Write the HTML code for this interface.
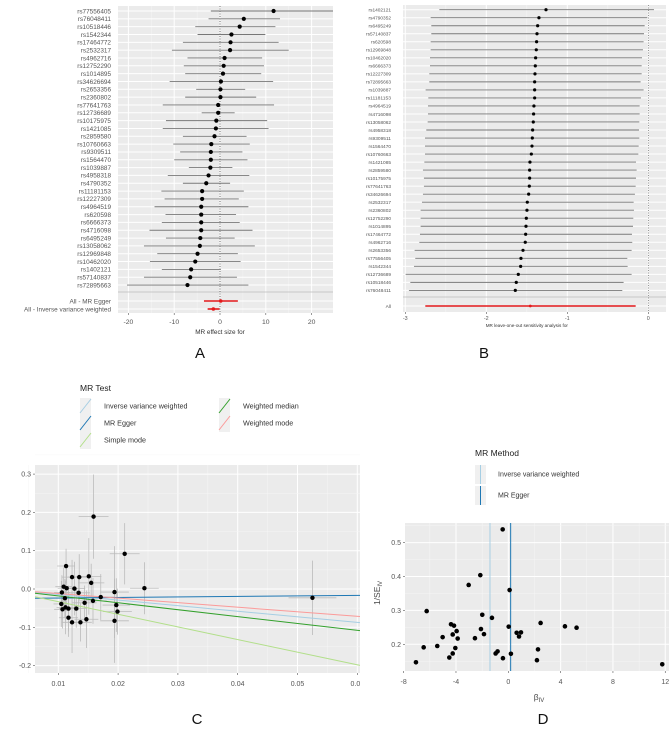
<!DOCTYPE html>
<html><head><meta charset="utf-8"><style>
body{margin:0;background:#fff}
svg{display:block;font-family:"Liberation Sans",sans-serif}
</style></head><body>
<svg id="fig" width="669" height="739" viewBox="0 0 669 739" xmlns="http://www.w3.org/2000/svg">
<g id="A"></g>
<g id="B"></g>
<g id="C"></g>
<g id="D"></g>
</svg>
<script>
// ---------- Panel A data ----------
const aSnps=["rs77556405","rs76048411","rs10518446","rs1542344","rs17464772","rs2532317","rs4962716","rs12752290","rs1014895","rs34626694","rs2653356","rs2360802","rs77641763","rs12736689","rs10175975","rs1421085","rs2859580","rs10760663","rs9309511","rs1564470","rs1039887","rs4958318","rs4790352","rs11181153","rs12227309","rs4964519","rs620598","rs6666373","rs4716098","rs6495249","rs13058062","rs12969848","rs10462020","rs1402121","rs57140837","rs72895663"];
const aEst=[11.7,5.2,4.3,2.5,2.3,2.2,1.0,0.8,0.65,0.2,0.1,0.1,-0.4,-0.4,-0.8,-0.9,-1.2,-1.9,-2.0,-2.0,-2.1,-2.5,-3.0,-3.9,-3.9,-4.1,-4.1,-4.1,-4.1,-4.3,-4.4,-4.9,-5.4,-6.3,-6.5,-7.1];
const aLo=[-2,-2.5,-5.4,-4.9,-8.1,-10.5,-7.1,-7.9,-7.6,-11,-5.2,-7.6,-12.5,-4,-11.8,-12.5,-8.1,-10.2,-8.7,-10,-6.8,-11.4,-8.1,-12.8,-12.1,-14.3,-11.9,-12.7,-15.4,-11.8,-16.6,-13.7,-15.3,-12.7,-16.6,-20.3];
const aHi=[26,13.1,12.1,9.9,12.8,15,9.2,9.6,9.0,11.6,5.5,7.9,11.8,3.2,10.3,10.6,5.8,6.5,4.9,6,2.7,6.4,2.2,5.2,4.1,6.2,3.5,4.3,7.1,3.2,7.6,3.9,4.5,0.2,3.7,6.2];
const aSumLabels=["All - MR Egger","All - Inverse variance weighted"];
const aSumEst=[0.15,-1.45];
const aSumLo=[-3.5,-2.7];
const aSumHi=[3.9,-0.1];
const aTicks=[-20,-10,0,10,20];
// ---------- Panel B data ----------
const bSnps=["rs1402121","rs4790352","rs6495249","rs57140837","rs620598","rs12969848","rs10462020","rs6666373","rs12227309","rs72895663","rs1039887","rs11181153","rs4964519","rs4716098","rs13058062","rs4958318","rs9309511","rs1564470","rs10760663","rs1421085","rs2859580","rs10175975","rs77641763","rs34626694","rs2532317","rs2360802","rs12752290","rs1014895","rs17464772","rs4962716","rs2653356","rs77556405","rs1542344","rs12736689","rs10518446","rs76048411"];
const bEst=[-1.263,-1.350,-1.366,-1.374,-1.379,-1.383,-1.391,-1.395,-1.399,-1.403,-1.403,-1.403,-1.412,-1.416,-1.420,-1.428,-1.432,-1.436,-1.444,-1.461,-1.465,-1.465,-1.469,-1.477,-1.494,-1.498,-1.506,-1.510,-1.514,-1.519,-1.547,-1.572,-1.576,-1.605,-1.630,-1.642];
const bLo=[-2.580,-2.687,-2.679,-2.679,-2.687,-2.687,-2.695,-2.695,-2.704,-2.704,-2.749,-2.716,-2.720,-2.720,-2.724,-2.741,-2.757,-2.757,-2.757,-2.765,-2.782,-2.770,-2.770,-2.782,-2.794,-2.811,-2.811,-2.811,-2.819,-2.827,-2.885,-2.877,-2.893,-2.996,-2.938,-2.955];
const bHi=[0.070,-0.012,-0.045,-0.053,-0.058,-0.066,-0.078,-0.082,-0.082,-0.095,-0.058,-0.091,-0.107,-0.107,-0.111,-0.115,-0.111,-0.119,-0.123,-0.152,-0.144,-0.152,-0.156,-0.165,-0.181,-0.177,-0.185,-0.189,-0.202,-0.198,-0.206,-0.259,-0.255,-0.206,-0.305,-0.321];
const bAll=[-1.457,-2.753,-0.156];
const bTicks=[-3,-2,-1,0];
// ---------- Panel C data ----------
const cX=[0.0159,0.0211,0.0244,0.0525,0.0113,0.0109,0.0114,0.0111,0.0106,0.0105,0.0107,0.0112,0.0117,0.0123,0.0127,0.0130,0.0134,0.0135,0.0117,0.0123,0.0137,0.0144,0.0147,0.0151,0.0155,0.0158,0.0171,0.0194,0.0197,0.0199,0.0194];
const cY=[0.189,0.092,0.002,-0.023,0.060,0.006,0.002,-0.024,-0.009,-0.039,-0.053,-0.048,-0.051,0.031,0.001,-0.051,-0.010,0.031,-0.075,-0.087,-0.087,-0.036,-0.079,0.033,0.016,-0.031,-0.021,-0.008,-0.042,-0.059,-0.083];
const cXse=[0.0025,0.0025,0.0024,0.004,0.0015,0.0014,0.0015,0.0015,0.0013,0.0013,0.0014,0.0015,0.0016,0.0017,0.0018,0.0018,0.0019,0.0019,0.0016,0.0017,0.0019,0.002,0.002,0.0021,0.0022,0.0023,0.0024,0.0024,0.0023,0.0024,0.0024];
const cYse=[0.11,0.08,0.068,0.097,0.045,0.05,0.06,0.05,0.045,0.06,0.05,0.07,0.06,0.045,0.07,0.05,0.045,0.06,0.05,0.08,0.05,0.045,0.075,0.1,0.05,0.06,0.06,0.12,0.07,0.06,0.11];
const cMethods=["Inverse variance weighted","MR Egger","Simple mode","Weighted median","Weighted mode"];
const cIntercepts=[0,-0.025,0,0,0];
const cSlopes=[-1.45,0.14,-3.3,-1.8,-1.19];
const cColors=["#a6cee3","#1f78b4","#b2df8a","#33a02c","#fb9a99"];
const cXTicks=[0.01,0.02,0.03,0.04,0.05,0.06];
const cYTicks=[-0.2,-0.1,0.0,0.1,0.2,0.3];
// ---------- Panel D data ----------
const dBeta=[-0.43,-2.14,-3.03,0.10,-6.24,-1.99,-1.25,2.47,-4.38,-4.15,0.03,4.33,5.22,-2.09,-3.95,0.97,0.64,-4.25,-1.86,0.82,-5.02,-2.55,-3.87,-5.43,-6.47,-4.05,2.27,-0.82,-0.97,0.20,-4.25,-4.51,-0.41,2.19,-7.06,11.77];
const dInvSe=[0.539,0.404,0.375,0.360,0.298,0.287,0.278,0.263,0.259,0.255,0.252,0.253,0.249,0.245,0.239,0.235,0.234,0.229,0.230,0.223,0.221,0.218,0.217,0.195,0.191,0.189,0.185,0.179,0.173,0.172,0.173,0.161,0.159,0.153,0.147,0.141];
const dMethods=["Inverse variance weighted","MR Egger"];
const dLines=[-1.40,0.18];
const dColors=["#a6cee3","#1f78b4"];
const dXTicks=[-8,-4,0,4,8,12];
const dYTicks=[0.2,0.3,0.4,0.5];

const NS="http://www.w3.org/2000/svg";
function mk(p,tag,at,txt){const e=document.createElementNS(NS,tag);for(const k in at)e.setAttribute(k,at[k]);if(txt!==undefined)e.textContent=txt;p.appendChild(e);return e;}
const BG="#ebebeb";

// ================= Panel A =================
(function(){
const g=document.getElementById('A');
const L=118,R=333,T=6,B=313;
const xA=v=>220+(v)*4.58;
const rowY=i=>11+i*7.83;
let e=mk(g,'rect',{x:L,y:T,width:R-L,height:B-T,fill:BG});


for(const v of [-25,-15,-5,5,15,25]){if(xA(v)>L&&xA(v)<R)mk(g,'line',{x1:xA(v),x2:xA(v),y1:T,y2:B,stroke:'#f6f6f6','stroke-width':0.5});}
for(const v of aTicks){mk(g,'line',{x1:xA(v),x2:xA(v),y1:T,y2:B,stroke:'#fff','stroke-width':1});}
aSnps.forEach((s,i)=>{mk(g,'line',{x1:L,x2:R,y1:rowY(i),y2:rowY(i),stroke:'#fff','stroke-width':1});});
[301,309].forEach(y=>mk(g,'line',{x1:L,x2:R,y1:y,y2:y,stroke:'#fff','stroke-width':1}));
mk(g,'line',{x1:L,x2:R,y1:292,y2:292,stroke:'#bbb','stroke-width':0.8});
mk(g,'line',{x1:xA(0),x2:xA(0),y1:T,y2:B,stroke:'#444','stroke-width':0.7,'stroke-dasharray':'1,1.5'});
aSnps.forEach((s,i)=>{
 const y=rowY(i);
 e=mk(g,'text',{x:111,y:y+2.3,'font-size':6.4,fill:'#555','text-anchor':'end'},s);
 
 
 e=mk(g,'line',{x1:Math.max(L,xA(aLo[i])),x2:Math.min(R,xA(aHi[i])),y1:y,y2:y,stroke:'#777','stroke-width':0.9});
 
 
 e=mk(g,'circle',{cx:xA(aEst[i]),cy:y,r:2.1,fill:'#000'});
 
 
});
aSumLabels.forEach((s,i)=>{
 const y=[301,309][i];
 e=mk(g,'text',{x:111,y:y+2.3,'font-size':6.4,fill:'#555','text-anchor':'end'},s);
 
 
 e=mk(g,'line',{x1:xA(aSumLo[i]),x2:xA(aSumHi[i]),y1:y,y2:y,stroke:'#e41a1c','stroke-width':1.6});
 
 
 e=mk(g,'circle',{cx:xA(aSumEst[i]),cy:y,r:1.8,fill:'#e41a1c'});
 
 
});
aTicks.forEach(v=>{mk(g,'line',{x1:xA(v),x2:xA(v),y1:B,y2:B+2,stroke:'#555','stroke-width':0.6});
 e=mk(g,'text',{x:xA(v),y:324,'font-size':6.8,fill:'#555','text-anchor':'middle'},v);
 
 });
e=mk(g,'text',{x:xA(0),y:334,'font-size':6.4,fill:'#333','text-anchor':'middle'},'MR effect size for');


e=mk(g,'text',{x:200,y:358,'font-size':15,fill:'#111','text-anchor':'middle'},'A');


})();

// ================= Panel B =================
(function(){
const g=document.getElementById('B');
const L=403,R=666,T=5,B=312;
const xB=v=>648.3+v*81;
const rowY=i=>9.7+i*8.02;
let e=mk(g,'rect',{x:L,y:T,width:R-L,height:B-T,fill:BG});


for(const v of [-2.5,-1.5,-0.5]){mk(g,'line',{x1:xB(v),x2:xB(v),y1:T,y2:B,stroke:'#f6f6f6','stroke-width':0.5});}
bTicks.forEach(v=>mk(g,'line',{x1:xB(v),x2:xB(v),y1:T,y2:B,stroke:'#fff','stroke-width':1}));
bSnps.forEach((s,i)=>mk(g,'line',{x1:L,x2:R,y1:rowY(i),y2:rowY(i),stroke:'#fff','stroke-width':1}));
mk(g,'line',{x1:L,x2:R,y1:306,y2:306,stroke:'#fff','stroke-width':1});
mk(g,'line',{x1:L,x2:R,y1:297,y2:297,stroke:'#bbb','stroke-width':0.8});
mk(g,'line',{x1:xB(0),x2:xB(0),y1:T,y2:B,stroke:'#555','stroke-width':0.6,'stroke-dasharray':'1,1.5'});
bSnps.forEach((s,i)=>{
 const y=rowY(i);
 e=mk(g,'text',{x:391,y:y+1.8,'font-size':4.8,fill:'#555','text-anchor':'end',textLength:s.length*2.5,lengthAdjust:'spacingAndGlyphs'},s);
 
 
 e=mk(g,'line',{x1:xB(bLo[i]),x2:xB(bHi[i]),y1:y,y2:y,stroke:'#777','stroke-width':0.9});
 
 
 e=mk(g,'circle',{cx:xB(bEst[i]),cy:y,r:1.6,fill:'#000'});
 
 
});
e=mk(g,'text',{x:391,y:308,'font-size':4.8,fill:'#555','text-anchor':'end'},'All');


e=mk(g,'line',{x1:xB(bAll[1]),x2:xB(bAll[2]),y1:306,y2:306,stroke:'#e41a1c','stroke-width':1.6});


e=mk(g,'circle',{cx:xB(bAll[0]),cy:306,r:1.4,fill:'#e41a1c'});


bTicks.forEach(v=>{mk(g,'line',{x1:xB(v),x2:xB(v),y1:B,y2:B+2,stroke:'#555','stroke-width':0.6});
 e=mk(g,'text',{x:xB(v),y:320,'font-size':5.4,fill:'#555','text-anchor':'middle'},v);
 
 });
e=mk(g,'text',{x:xB(-1.5),y:327,'font-size':4.6,fill:'#333','text-anchor':'middle'},'MR leave-one-out sensitivity analysis for');


e=mk(g,'text',{x:484,y:358,'font-size':15,fill:'#111','text-anchor':'middle'},'B');


})();

// ================= Panel C =================
(function(){
const g=document.getElementById('C');
const L=35,R=360,T=465,B=673;
const xC=v=>58.3+(v-0.01)*5980;
const yC=v=>589-v*383;
const x0=(L-58.3)/5980+0.01, x1=(R-58.3)/5980+0.01;
let e=mk(g,'text',{x:80,y:391,'font-size':8.5,fill:'#222'},'MR Test');


const pos=[[80,406],[80,423],[80,440],[219,406],[219,423]];
cMethods.forEach((m,i)=>{
 const [x,y]=pos[i];
 mk(g,'rect',{x:x,y:y-8,width:11,height:17,fill:'#f0f0f0'});
 mk(g,'line',{x1:x,y1:y+7,x2:x+11,y2:y-7,stroke:cColors[i],'stroke-width':1});
 e=mk(g,'text',{x:x+24,y:y+2.5,'font-size':7.2,fill:'#333'},m);
 
 
});
e=mk(g,'rect',{x:L,y:T,width:R-L,height:B-T,fill:BG});


cXTicks.forEach(v=>{mk(g,'line',{x1:xC(v-0.005),x2:xC(v-0.005),y1:T,y2:B,stroke:'#f6f6f6','stroke-width':0.5});mk(g,'line',{x1:xC(v),x2:xC(v),y1:T,y2:B,stroke:'#fff','stroke-width':1});});
cYTicks.forEach(v=>{mk(g,'line',{x1:L,x2:R,y1:yC(v+0.05),y2:yC(v+0.05),stroke:'#f6f6f6','stroke-width':0.5});mk(g,'line',{x1:L,x2:R,y1:yC(v),y2:yC(v),stroke:'#fff','stroke-width':1});});
cX.forEach((x,i)=>{
 mk(g,'line',{x1:xC(x-cXse[i]),x2:xC(x+cXse[i]),y1:yC(cY[i]),y2:yC(cY[i]),stroke:'#bbb','stroke-width':0.8});
 mk(g,'line',{x1:xC(x),x2:xC(x),y1:yC(cY[i]-cYse[i]),y2:yC(cY[i]+cYse[i]),stroke:'#bbb','stroke-width':0.8});
});
cMethods.forEach((m,i)=>{
 e=mk(g,'line',{x1:L,x2:R,y1:yC(cIntercepts[i]+cSlopes[i]*x0),y2:yC(cIntercepts[i]+cSlopes[i]*x1),stroke:cColors[i],'stroke-width':1});
 
 
});
cX.forEach((x,i)=>{
 e=mk(g,'circle',{cx:xC(x),cy:yC(cY[i]),r:2.2,fill:'#000'});
 
 
});
cYTicks.forEach(v=>{mk(g,'line',{x1:L-2,x2:L,y1:yC(v),y2:yC(v),stroke:'#555','stroke-width':0.6});
 e=mk(g,'text',{x:L-4,y:yC(v)+2.5,'font-size':7,fill:'#555','text-anchor':'end'},v.toFixed(1));
 
 });
cXTicks.forEach(v=>{mk(g,'line',{x1:xC(v),x2:xC(v),y1:B,y2:B+2,stroke:'#555','stroke-width':0.6});
 e=mk(g,'text',{x:xC(v),y:686,'font-size':7,fill:'#555','text-anchor':'middle'},v.toFixed(2));
 
 });
mk(g,'rect',{x:R,y:T-2,width:14,height:230,fill:'#fff'});
e=mk(g,'text',{x:197,y:724,'font-size':15,fill:'#111','text-anchor':'middle'},'C');


})();

// ================= Panel D =================
(function(){
const g=document.getElementById('D');
const L=405,R=669,T=523,B=671;
const xD=v=>508.3+v*13.08;
const yD=v=>644.3-(v-0.2)*339;
let e=mk(g,'text',{x:475,y:456,'font-size':8.5,fill:'#222'},'MR Method');


dMethods.forEach((m,i)=>{
 const y=[474,495][i];
 mk(g,'rect',{x:475,y:y-9,width:11,height:19,fill:'#f0f0f0'});
 mk(g,'line',{x1:480.5,x2:480.5,y1:y-9,y2:y+10,stroke:dColors[i],'stroke-width':1});
 e=mk(g,'text',{x:498,y:y+2.5,'font-size':7,fill:'#333'},m);
 
 
});
e=mk(g,'rect',{x:L,y:T,width:R-L,height:B-T,fill:BG});


dXTicks.forEach(v=>{mk(g,'line',{x1:xD(v+2),x2:xD(v+2),y1:T,y2:B,stroke:'#f6f6f6','stroke-width':0.5});mk(g,'line',{x1:xD(v),x2:xD(v),y1:T,y2:B,stroke:'#fff','stroke-width':1});});
dYTicks.forEach(v=>{mk(g,'line',{x1:L,x2:R,y1:yD(v+0.05),y2:yD(v+0.05),stroke:'#f6f6f6','stroke-width':0.5});mk(g,'line',{x1:L,x2:R,y1:yD(v),y2:yD(v),stroke:'#fff','stroke-width':1});});
mk(g,'line',{x1:L,x2:R,y1:yD(0.15),y2:yD(0.15),stroke:'#f6f6f6','stroke-width':0.5});
dMethods.forEach((m,i)=>{
 e=mk(g,'line',{x1:xD(dLines[i]),x2:xD(dLines[i]),y1:T,y2:B,stroke:dColors[i],'stroke-width':1});
 
 
});
dBeta.forEach((b,i)=>{
 e=mk(g,'circle',{cx:xD(b),cy:yD(dInvSe[i]),r:2.3,fill:'#000'});
 
 
});
dYTicks.forEach(v=>{mk(g,'line',{x1:L-2,x2:L,y1:yD(v),y2:yD(v),stroke:'#555','stroke-width':0.6});
 e=mk(g,'text',{x:L-4,y:yD(v)+2.5,'font-size':7,fill:'#555','text-anchor':'end'},v.toFixed(1));
 
 });
dXTicks.forEach(v=>{mk(g,'line',{x1:xD(v),x2:xD(v),y1:B,y2:B+2,stroke:'#555','stroke-width':0.6});
 e=mk(g,'text',{x:xD(v),y:684,'font-size':7,fill:'#555','text-anchor':'middle'},v);
 
 });
e=mk(g,'text',{x:539,y:700,'font-size':8.5,fill:'#444','text-anchor':'middle'});


e.innerHTML='β<tspan font-size="6" dy="2">IV</tspan>';
e=mk(g,'text',{x:0,y:0,'font-size':8.5,fill:'#444','text-anchor':'middle',transform:'translate(380,593) rotate(-90)'});


e.innerHTML='1/SE<tspan font-size="6" dy="2">IV</tspan>';
e=mk(g,'text',{x:543,y:724,'font-size':15,fill:'#111','text-anchor':'middle'},'D');


})();
</script>
</body></html>
